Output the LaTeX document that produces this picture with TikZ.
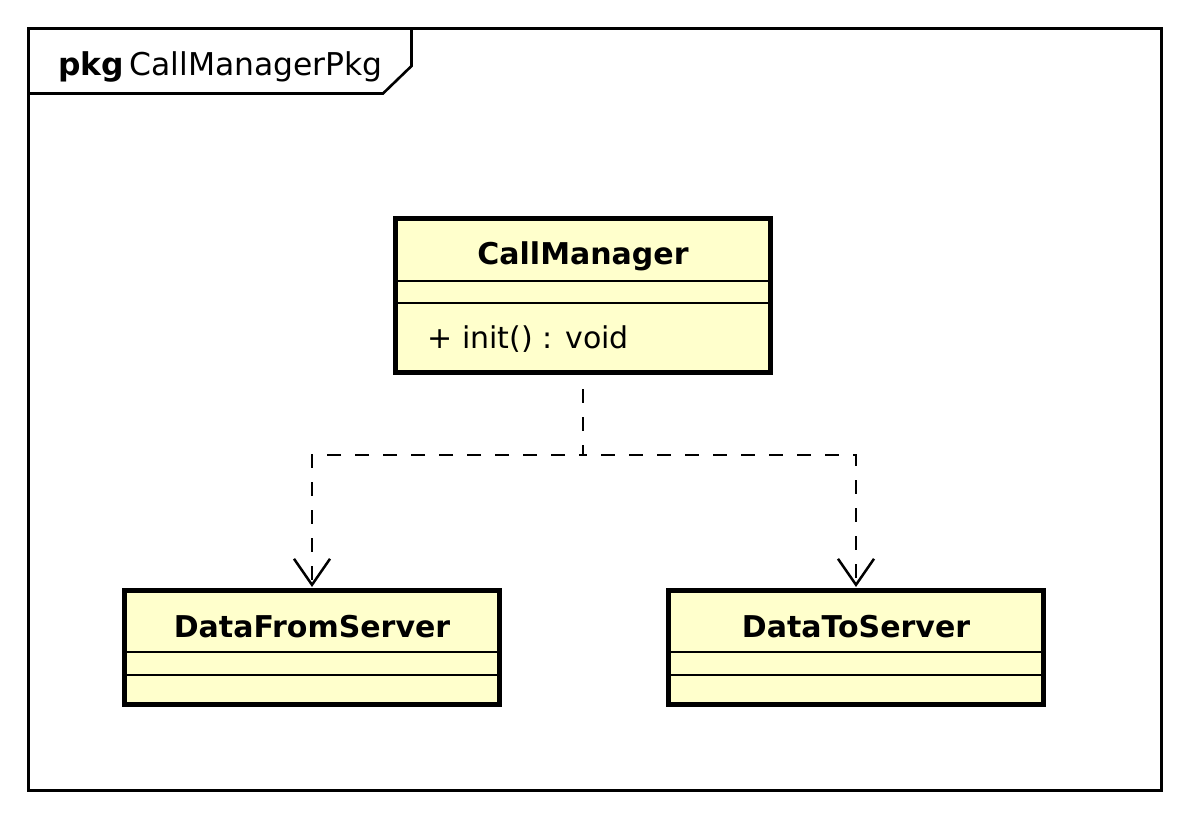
\documentclass[tikz,border=0pt]{standalone}
\usepackage{fontspec}
\setmainfont{DejaVu Sans}
\usepackage{tikz}
\usetikzlibrary{positioning}
\usetikzlibrary{arrows.meta}
\definecolor{umlgelb}{RGB}{255,255,204}
\tikzset{
  klasse/.style={draw, line width=2.5pt, fill=umlgelb, minimum width=187.5pt, inner sep=0pt},
  trenner/.style={line width=1pt},
  abh/.style={line width=1.25pt, dash pattern=on 7pt off 7pt, dash phase=7pt,
    -{Straight Barb[length=13pt,width=18pt]}, shorten >=0.5pt},
  txt/.style={inner sep=0pt}
}
\begin{document}
\begin{tikzpicture}[x=0.5pt, y=-0.5pt, font=\fontsize{15}{18}\selectfont]

\useasboundingbox (0,0) rectangle (1188,819);

% Paketrahmen
\draw[line width=1.3pt] (28.5,28.5) rectangle (1161.5,790.5);
\draw[line width=1.3pt] (28.5,93.5) -- (383,93.5) -- (411.5,66) -- (411.5,28.5);
\node[txt, anchor=base west, font=\fontsize{15.7}{18}\selectfont] (pkg) at (58,75) {\textbf{pkg}\,CallManagerPkg};

% Klassen
\node[klasse, minimum height=77pt] (cm) at (583,295.5) {};
\node[klasse, minimum height=57pt] (dfs) at (312,647.5) {};
\node[klasse, minimum height=57pt] (dts) at (856,647.5) {};

% Trennlinien
\foreach \n/\ya/\yb in {cm/281/303, dfs/652/675, dts/652/675}
{
  \draw[trenner] (\n.west |- 0,\ya) -- (\n.east |- 0,\ya);
  \draw[trenner] (\n.west |- 0,\yb) -- (\n.east |- 0,\yb);
}

% Beschriftung
\node[txt, anchor=base] (cmname) at (583,264) {\textbf{CallManager}};
\node[txt, anchor=base west] (cmop) at (427,348) {+ init() : void};
\node[txt, anchor=base] (dfsname) at (312,637) {\textbf{DataFromServer}};
\node[txt, anchor=base] (dtsname) at (856,637) {\textbf{DataToServer}};

% Abhaengigkeiten
\coordinate (knick) at (583,455);
\draw[abh] (cm.south) -- (knick) -| (dfs.north);
\draw[abh] (cm.south) -- (knick) -| (dts.north);

\end{tikzpicture}
\end{document}
